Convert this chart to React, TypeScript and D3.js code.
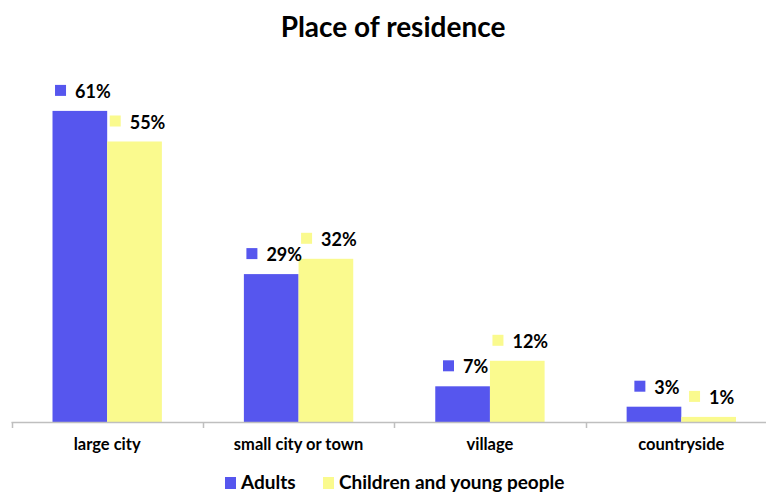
import React, { useEffect, useRef } from "react";
import * as d3 from "d3";

const categories = ["large city", "small city or town", "village", "countryside"];
const seriesNames = ["Adults", "Children and young people"];
const adults = [61, 29, 7, 3];
const children = [55, 32, 12, 1];
const colors = ["#5656ee", "#fafa8e"];

const W = 766;
const H = 492;
const FONT = "Lato, 'DejaVu Sans', sans-serif";

export default function App() {
  const ref = useRef<SVGSVGElement | null>(null);

  useEffect(() => {
    const svg = d3.select(ref.current);
    svg.selectAll("*").remove();

    const baseY = 422;
    const x0 = d3.scaleBand<string>().domain(categories).range([11.5, 777]).padding(0);
    const x1 = d3.scaleBand<string>().domain(seriesNames).range([0, x0.bandwidth()]).paddingInner(0).paddingOuter(0.75);
    const y = d3.scaleLinear().domain([0, 70]).range([baseY, baseY - 357]);

    svg
      .append("text")
      .attr("x", 393)
      .attr("y", 37)
      .attr("text-anchor", "middle")
      .attr("font-family", FONT)
      .attr("font-weight", "bold")
      .attr("font-size", 28)
      .attr("fill", "#000")
      .text("Place of residence");

    const seriesData = [adults, children];

    seriesData.forEach((vals, si) => {
      const name = seriesNames[si];
      categories.forEach((cat, ci) => {
        const v = vals[ci];
        const bx = (x0(cat) as number) + (x1(name) as number);
        const bw = x1.bandwidth();
        svg
          .append("rect")
          .attr("x", bx)
          .attr("y", y(v))
          .attr("width", bw)
          .attr("height", baseY - y(v))
          .attr("fill", colors[si]);
      });
    });

    // axis
    const axisG = svg.append("g");
    axisG
      .append("line")
      .attr("x1", 11.5)
      .attr("x2", 777)
      .attr("y1", baseY + 0.5)
      .attr("y2", baseY + 0.5)
      .attr("stroke", "#bfbfbf")
      .attr("stroke-width", 1.5);
    categories.forEach((cat, ci) => {
      const tx = Math.round(x0(cat) as number) + 0.5;
      axisG
        .append("line")
        .attr("x1", tx)
        .attr("x2", tx)
        .attr("y1", baseY)
        .attr("y2", baseY + 6)
        .attr("stroke", "#bfbfbf")
        .attr("stroke-width", 1.5);
      axisG
        .append("text")
        .attr("x", (x0(cat) as number) + x0.bandwidth() / 2)
        .attr("y", 450)
        .attr("text-anchor", "middle")
        .attr("font-family", FONT)
        .attr("font-weight", "bold")
        .attr("font-size", 16.5)
        .attr("fill", "#000")
        .text(cat);
    });

    // data labels
    seriesData.forEach((vals, si) => {
      const name = seriesNames[si];
      categories.forEach((cat, ci) => {
        const v = vals[ci];
        const cx = (x0(cat) as number) + (x1(name) as number) + x1.bandwidth() / 2;
        const baseline = y(v) - 13;
        const g = svg.append("g");
        const t = g
          .append("text")
          .attr("y", baseline)
          .attr("font-family", FONT)
          .attr("font-weight", "bold")
          .attr("font-size", 18)
          .attr("fill", "#000")
          .text(v + "%");
        const tw = (t.node() as SVGTextElement).getComputedTextLength();
        const gw = 11 + 9 + tw;
        const left = cx + 3 - gw / 2;
        t.attr("x", left + 20);
        g.append("rect")
          .attr("x", left)
          .attr("y", baseline - 13)
          .attr("width", 11)
          .attr("height", 11)
          .attr("fill", colors[si]);
      });
    });

    // legend
    const legX = [225, 323];
    seriesNames.forEach((name, si) => {
      svg
        .append("rect")
        .attr("x", legX[si])
        .attr("y", 477)
        .attr("width", 11)
        .attr("height", 12)
        .attr("fill", colors[si]);
      svg
        .append("text")
        .attr("x", legX[si] + 16)
        .attr("y", 489)
        .attr("font-family", FONT)
        .attr("font-weight", "bold")
        .attr("font-size", 19)
        .attr("fill", "#000")
        .text(name);
    });
  }, []);

  return (
    <svg
      ref={ref}
      width={W}
      height={H}
      style={{ position: "absolute", left: 0, top: 0, background: "#fff" }}
    />
  );
}
